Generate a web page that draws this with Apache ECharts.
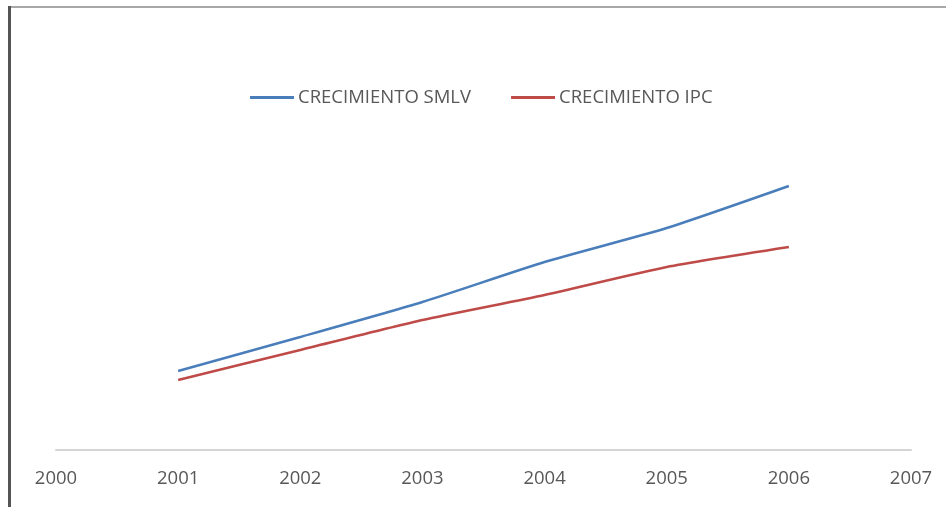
<!DOCTYPE html>
<html>
<head>
<meta charset="utf-8">
<script src="https://cdn.jsdelivr.net/npm/echarts@6/dist/echarts.min.js"></script>
<style>
  html, body { margin: 0; padding: 0; background: #fff; }
  #chart { width: 946px; height: 507px; }
</style>
</head>
<body>
<div id="chart"></div>
<script>
// Years on the horizontal axis
const years = ['2000', '2001', '2002', '2003', '2004', '2005', '2006', '2007'];
// Growth series (index units), no data at the end years
const smlv = [null, 79, 113, 148, 188, 222, 264, null];
const ipc = [null, 70, 100, 130, 155, 183, 203, null];
const seriesNames = ['CRECIMIENTO SMLV', 'CRECIMIENTO IPC'];

const chart = echarts.init(document.getElementById('chart'));
const font = 'Open Sans, Liberation Sans, sans-serif';

chart.setOption({
  backgroundColor: '#ffffff',
  animation: false,
  legend: {
    top: 83,
    left: 245,
    icon: 'rect',
    itemWidth: 44,
    itemHeight: 3,
    itemGap: 40,
    textStyle: { fontFamily: font, fontSize: 18.5, color: '#585858', padding: [0, 0, 0, -1] },
    data: seriesNames
  },
  grid: { left: 56, right: 35, top: 30, bottom: 57, containLabel: false },
  xAxis: {
    type: 'category',
    data: years,
    boundaryGap: false,
    axisLine: { lineStyle: { color: '#d4d4d4', width: 2 } },
    axisTick: { show: false },
    axisLabel: { fontFamily: font, fontSize: 18.5, color: '#585858', margin: 19 }
  },
  yAxis: {
    type: 'value',
    min: 0,
    max: 420,
    show: false,
    splitLine: { show: false }
  },
  series: [
    {
      name: seriesNames[0],
      type: 'line',
      data: smlv,
      smooth: 0.2,
      symbol: 'none',
      itemStyle: { color: '#4a7ebb' },
      lineStyle: { color: '#4a7ebb', width: 2.5 }
    },
    {
      name: seriesNames[1],
      type: 'line',
      data: ipc,
      smooth: 0.2,
      symbol: 'none',
      itemStyle: { color: '#be4b48' },
      lineStyle: { color: '#be4b48', width: 2.5 }
    }
  ],
  graphic: [
    // frame edges around the plot area
    { type: 'rect', shape: { x: 10, y: 6, width: 936, height: 2 }, style: { fill: '#a8a8a8' }, silent: true },
    { type: 'rect', shape: { x: 8, y: 6, width: 3, height: 501 }, style: { fill: '#555555' }, silent: true }
  ]
});
</script>
</body>
</html>
